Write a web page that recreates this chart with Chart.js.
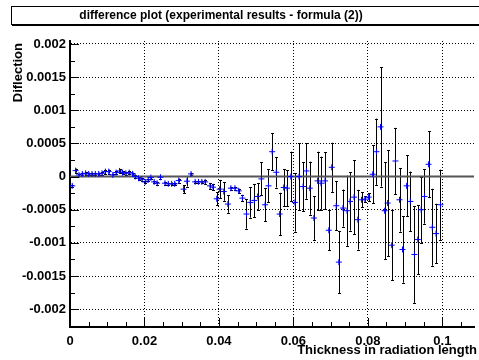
<!DOCTYPE html>
<html><head><meta charset="utf-8">
<script src="https://cdn.jsdelivr.net/npm/chart.js@4.4.0/dist/chart.umd.min.js"></script>
<style>html,body{margin:0;padding:0;background:#fff;}canvas{display:block;}</style>
</head><body>
<canvas id="c" width="479" height="360"></canvas>
<script>
// ---- data ----
const thickness = [
 0.0006,0.0015,0.0024,0.0033,0.0042,0.0050,0.0059,0.0068,0.0077,0.0086,
 0.0095,0.0104,0.0115,0.0124,0.0133,0.0141,0.0150,0.0159,0.0168,0.0175,
 0.0184,0.0193,0.0202,0.0210,0.0217,0.0226,0.0234,0.0243,0.0255,0.0264,
 0.0273,0.0281,0.0292,0.0305,0.0314,0.0325,0.0336,0.0345,0.0354,0.0363,
 0.0376,0.0384,0.0394,0.0402,0.0413,0.0424,0.0432,0.0443,0.0453,0.0463,
 0.0474,0.0484,0.0495,0.0504,0.0514,0.0524,0.0533,0.0543,0.0554,0.0563,
 0.0574,0.0583,0.0593,0.0604,0.0615,0.0626,0.0635,0.0644,0.0655,0.0665,
 0.0674,0.0685,0.0695,0.0703,0.0715,0.0722,0.0733,0.0744,0.0752,0.0763,
 0.0773,0.0783,0.0792,0.0802,0.0813,0.0823,0.0834,0.0845,0.0853,0.0864,
 0.0874,0.0885,0.0893,0.0904,0.0914,0.0925,0.0934,0.0943,0.0952,0.0963,
 0.0973,0.0983,0.0995
];
const diflection = [
 -0.00014,0.00009,0.000025,0.00004,0.00005,0.00004,0.00004,0.00004,0.00004,0.00005,
 0.000075,0.000075,0.000025,0.00006,0.000085,0.00006,0.00005,0.00006,0.00004,0.0,
 -0.000025,-0.00004,-0.00008,-0.00005,-0.000015,-0.00008,-0.0001,-0.00001,-0.0001,-0.00011,
 -0.00011,-0.00011,-0.00006,-0.00019,-0.00007,0.00004,-0.00008,-0.00008,-0.00008,-0.00008,
 -0.00014,-0.00016,-0.000335,-0.00019,-0.000225,-0.000415,-0.000175,-0.000175,-0.000215,-0.000325,
 -0.000565,-0.00039,-0.00036,-0.0003,-0.000035,-0.000425,-0.00014,0.000375,0.000065,-0.000565,
 -0.000165,-0.000175,0.0,-0.00039,0.0,-0.00015,0.000085,-0.000175,-0.000625,-0.000065,
 -0.0001,-0.000065,-0.00081,0.00014,-0.00044,-0.00129,-0.000475,-0.000515,-0.000375,-0.00031,
 -0.00065,-0.00035,-0.00034,-0.00031,0.000035,0.000375,0.00075,-0.000515,-0.0004,-0.001035,
 0.000235,-0.00035,-0.0011,-0.00014,-0.000375,-0.001175,-0.00095,-0.0005,-0.0003,0.000185,
 -0.000765,-0.00086,-0.000425
];
const diflectionError = [
 0.00002,0.00003,0.00002,0.00002,0.00002,0.00002,0.00002,0.00002,0.00002,0.00002,
 0.00003,0.00003,0.00002,0.00002,0.00003,0.00002,0.00002,0.00002,0.00002,0.00002,
 0.00002,0.00002,0.00002,0.00002,0.00002,0.00002,0.00002,0.00002,0.00002,0.00002,
 0.00002,0.00002,0.00003,0.00006,0.00008,0.00002,0.00002,0.00002,0.00002,0.00003,
 0.00004,0.00005,0.0001,0.00014,0.00014,0.00013,0.00002,0.00002,0.00003,0.00005,
 0.00022,0.00023,0.00025,0.0002,0.00025,0.00025,0.00025,0.00028,0.00023,0.00032,
 0.00028,0.00027,0.000375,0.00044,0.0005,0.00037,0.00042,0.0004,0.00033,0.00044,
 0.0004,0.00043,0.0003,0.00037,0.00037,0.00047,0.00028,0.00053,0.00044,0.00056,
 0.00045,0.00011,0.00004,0.00006,0.00044,0.0005,0.0009,0.00073,0.0008,0.00053,
 0.0005,0.00048,0.0005,0.00046,0.00045,0.00073,0.00052,0.0005,0.00041,0.0005,
 0.00058,0.00045,0.00053
];
const xTickValues = [0, 0.02, 0.04, 0.06, 0.08, 0.1];
const yTickValues = [-0.002, -0.0015, -0.001, -0.0005, 0, 0.0005, 0.001, 0.0015, 0.002];
const zeroLine = [0, 0];
const titleText = 'difference plot (experimental results - formula (2))';
const xTitleText = 'Thickness in radiation length';
const yTitleText = 'Diflection';

// ---- axis ranges ----
const X_MIN = 0, X_MAX = 0.1085;
const Y_MIN = -0.002269, Y_MAX = 0.002045;
const X_MINOR = 0.005, Y_MINOR = 0.00025;

const FONT = '"Liberation Sans", Arial, Helvetica, sans-serif';

const rootStyle = {
  id: 'rootStyle',
  beforeDraw(chart) {
    const ctx = chart.ctx;
    ctx.save();
    ctx.fillStyle = '#fff';
    ctx.fillRect(0, 0, chart.width, chart.height);
    ctx.restore();
  },
  beforeDatasetsDraw(chart) {
    const ctx = chart.ctx;
    const xs = chart.scales.x, ys = chart.scales.y;
    ctx.save();
    ctx.strokeStyle = '#000';
    ctx.lineWidth = 1;
    for (let i = 0; i < thickness.length; i++) {
      const px = Math.round(xs.getPixelForValue(thickness[i])) + 0.5;
      const y1 = ys.getPixelForValue(diflection[i] + diflectionError[i]);
      const y2 = ys.getPixelForValue(diflection[i] - diflectionError[i]);
      ctx.beginPath();
      ctx.moveTo(px, y1); ctx.lineTo(px, y2);
      ctx.moveTo(px - 1.5, Math.round(y1) + 0.5); ctx.lineTo(px + 1.5, Math.round(y1) + 0.5);
      ctx.moveTo(px - 1.5, Math.round(y2) + 0.5); ctx.lineTo(px + 1.5, Math.round(y2) + 0.5);
      ctx.stroke();
    }
    ctx.restore();
  },
  afterDraw(chart) {
    const ctx = chart.ctx;
    const xs = chart.scales.x, ys = chart.scales.y;
    const a = chart.chartArea;
    ctx.save();
    // tick marks inside the frame
    ctx.strokeStyle = '#000';
    ctx.lineWidth = 1;
    ctx.beginPath();
    for (let k = 0; X_MINOR * k <= X_MAX + 1e-9; k++) {
      const v = X_MINOR * k;
      const px = Math.round(xs.getPixelForValue(v)) + 0.5;
      const major = k % 4 === 0;
      ctx.moveTo(px, a.bottom); ctx.lineTo(px, a.bottom - (major ? 9 : 5));
    }
    for (let k = Math.ceil(Y_MIN / Y_MINOR); Y_MINOR * k <= Y_MAX + 1e-12; k++) {
      const v = Y_MINOR * k;
      const py = Math.round(ys.getPixelForValue(v)) + 0.5;
      const major = k % 2 === 0;
      ctx.moveTo(a.left, py); ctx.lineTo(a.left + (major ? 9 : 5), py);
    }
    ctx.stroke();

    // title box
    ctx.fillStyle = '#fff';
    ctx.fillRect(11, 6, 480, 19);
    ctx.strokeStyle = '#000';
    ctx.lineWidth = 1;
    ctx.strokeRect(11.5, 6.5, 480, 18);
    ctx.fillStyle = '#000';
    ctx.fillRect(12, 24, 480, 2);
    ctx.font = 'bold 12px ' + FONT;
    ctx.textAlign = 'center';
    ctx.textBaseline = 'middle';
    ctx.fillText(titleText, 221, 15.5);

    // axis titles
    ctx.font = 'bold 13px ' + FONT;
    ctx.textAlign = 'right';
    ctx.textBaseline = 'middle';
    ctx.fillText(xTitleText, 477, 350);
    ctx.save();
    ctx.translate(18, 43);
    ctx.rotate(-Math.PI / 2);
    ctx.textAlign = 'right';
    ctx.fillText(yTitleText, 0, 0);
    ctx.restore();
    ctx.restore();
  }
};

const fmt = v => String(Number(v.toFixed(5)));

new Chart(document.getElementById('c'), {
  type: 'scatter',
  data: {
    datasets: [
      {
        label: 'difference',
        data: thickness.map((x, i) => ({ x: x, y: diflection[i] })),
        pointStyle: 'cross',
        pointRadius: 3,
        pointBorderWidth: 1,
        borderColor: '#0000ff',
        backgroundColor: '#0000ff',
        showLine: false,
        order: 1
      },
      {
        type: 'line',
        label: 'zero',
        data: [{ x: X_MIN, y: zeroLine[0] }, { x: X_MAX, y: zeroLine[1] }],
        borderColor: '#555',
        borderWidth: 2,
        pointRadius: 0,
        fill: false,
        order: 2
      }
    ]
  },
  options: {
    responsive: false,
    animation: false,
    devicePixelRatio: 1,
    layout: { padding: { top: 41, right: 0, left: 0, bottom: 0 } },
    plugins: { legend: { display: false }, tooltip: { enabled: false }, title: { display: false } },
    scales: {
      x: {
        type: 'linear',
        min: X_MIN, max: X_MAX,
        afterBuildTicks: s => { s.ticks = xTickValues.map(v => ({ value: v })); },
        afterFit: s => { s.height = 33; },
        grid: { color: '#000', lineWidth: 1, drawTicks: false },
        border: { display: true, color: '#000', width: 2, dash: [1, 2] },
        ticks: {
          padding: 7,
          color: '#000',
          font: { family: FONT, size: 13, weight: 'bold' },
          maxRotation: 0,
          autoSkip: false,
          callback: v => fmt(v)
        }
      },
      y: {
        type: 'linear',
        min: Y_MIN, max: Y_MAX,
        afterBuildTicks: s => { s.ticks = yTickValues.map(v => ({ value: v })); },
        afterFit: s => { s.width = 70; },
        grid: { color: '#000', lineWidth: 1, drawTicks: false },
        border: { display: true, color: '#000', width: 2, dash: [1, 2] },
        ticks: {
          padding: 4,
          color: '#000',
          font: { family: FONT, size: 13, weight: 'bold' },
          autoSkip: false,
          callback: v => fmt(v)
        }
      }
    }
  },
  plugins: [rootStyle]
});
</script>
</body></html>
